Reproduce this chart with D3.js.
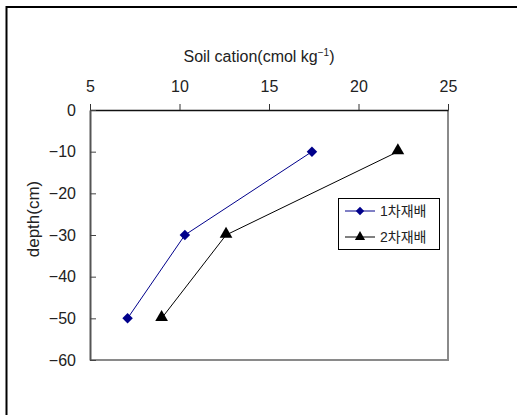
<!DOCTYPE html>
<html>
<head>
<meta charset="utf-8">
<script src="https://cdn.jsdelivr.net/npm/d3@7"></script>
<style>
  html, body { margin: 0; padding: 0; background: #fff; }
  svg text { font-family: "Liberation Sans", Arial, "Noto Sans CJK KR", sans-serif; fill: #222; }
</style>
</head>
<body>
<svg id="chart" width="517" height="415"></svg>
<script>
// Soil cation content by depth, two cropping cycles
const depths = [-10, -30, -50];
const series1Name = "1차재배";
const series2Name = "2차재배";
const series1Values = [17.4, 10.3, 7.1];
const series2Values = [22.2, 12.6, 9.0];
const xTicks = [5, 10, 15, 20, 25];
const yTicks = [0, -10, -20, -30, -40, -50, -60];

const svg = d3.select("#chart");
const plot = { left: 90, right: 448, top: 110, bottom: 360 };

const x = d3.scaleLinear().domain([5, 25]).range([plot.left, plot.right]);
const y = d3.scaleLinear().domain([0, -60]).range([plot.top, plot.bottom]);

// outer frame
svg.append("rect")
  .attr("x", 6.5).attr("y", 7).attr("width", 530).attr("height", 430)
  .attr("fill", "none").attr("stroke", "#000").attr("stroke-width", 2);

// plot border (right and bottom)
svg.append("path")
  .attr("d", `M${plot.right},${plot.top}V${plot.bottom}H${plot.left}`)
  .attr("fill", "none").attr("stroke", "#8a8a8a").attr("stroke-width", 2);

const minus = d => String(d).replace("-", "\u2212");

// x axis along the top
const xAxis = svg.append("g")
  .attr("transform", `translate(0,${plot.top})`)
  .call(d3.axisTop(x).tickValues(xTicks).tickSize(6).tickPadding(12).tickSizeOuter(0));
xAxis.select(".domain").attr("stroke", "#111").attr("stroke-width", 1.5);
xAxis.selectAll(".tick line").attr("stroke", "#333");
xAxis.selectAll(".tick text").attr("font-size", 16).attr("fill", "#222");

// y axis on the left, ticks pointing inward
const yAxis = svg.append("g")
  .attr("transform", `translate(${plot.left},0)`)
  .call(d3.axisLeft(y).tickValues(yTicks).tickSize(-6).tickPadding(14).tickSizeOuter(0).tickFormat(minus));
yAxis.select(".domain").attr("stroke", "#555").attr("stroke-width", 2);
yAxis.selectAll(".tick line").attr("stroke", "#444");
yAxis.selectAll(".tick text").attr("font-size", 16).attr("fill", "#222");

// axis titles
const xTitle = svg.append("text")
  .attr("x", 259).attr("y", 62).attr("text-anchor", "middle").attr("font-size", 16);
xTitle.append("tspan").text("Soil cation(cmol kg");
xTitle.append("tspan").attr("dy", -6).attr("font-size", 10).text("\u22121");
xTitle.append("tspan").attr("dy", 6).text(")");

svg.append("text")
  .attr("transform", "translate(39,219) rotate(-90)")
  .attr("text-anchor", "middle").attr("font-size", 17)
  .text("depth(cm)");

const line = d3.line().x(d => x(d[0])).y(d => y(d[1]));
const pts1 = series1Values.map((v, i) => [v, depths[i]]);
const pts2 = series2Values.map((v, i) => [v, depths[i]]);

const c1 = "#00008b", c2 = "#000";
svg.append("path").datum(pts1).attr("d", line)
  .attr("fill", "none").attr("stroke", c1).attr("stroke-width", 1);
svg.append("path").datum(pts2).attr("d", line)
  .attr("fill", "none").attr("stroke", c2).attr("stroke-width", 1);

const diamond = d3.symbol().type(d3.symbolDiamond2).size(70);
const triangle = d3.symbol().type(d3.symbolTriangle).size(70);

svg.selectAll(".m1").data(pts1).join("path")
  .attr("transform", d => `translate(${x(d[0])},${y(d[1])})`)
  .attr("d", diamond).attr("fill", c1);
svg.selectAll(".m2").data(pts2).join("path")
  .attr("transform", d => `translate(${x(d[0])},${y(d[1]) - 1})`)
  .attr("d", triangle).attr("fill", c2);

// legend
const lg = svg.append("g");
lg.append("rect").attr("x", 338.5).attr("y", 198.5).attr("width", 101).attr("height", 51)
  .attr("fill", "#fff").attr("stroke", "#000").attr("stroke-width", 1);
[[series1Name, c1, diamond, 211], [series2Name, c2, triangle, 237]].forEach(([name, col, sym, ly]) => {
  lg.append("line").attr("x1", 345).attr("x2", 375).attr("y1", ly).attr("y2", ly)
    .attr("stroke", col).attr("stroke-width", 1);
  lg.append("path").attr("transform", `translate(360,${ly})`)
    .attr("d", sym.size(45)()).attr("fill", col);
  lg.append("text").attr("x", 380).attr("y", ly + 5).attr("font-size", 14)
    .attr("font-family", "'Noto Sans CJK KR', sans-serif").text(name);
});
</script>
</body>
</html>
